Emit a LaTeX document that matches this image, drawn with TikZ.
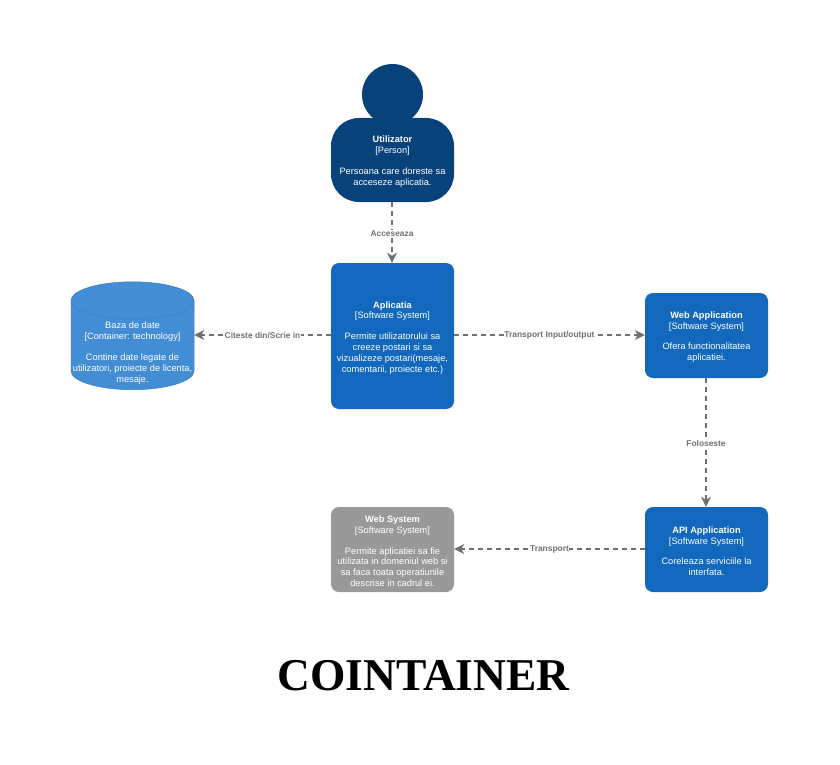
\documentclass[tikz,border=0pt]{standalone}
\usepackage{fontspec}
\setmainfont{Liberation Sans}
\newfontfamily\titlefont{Liberation Serif}
\usetikzlibrary{arrows.meta,positioning}
\definecolor{personblue}{HTML}{08427B}
\definecolor{systemblue}{HTML}{1168BD}
\definecolor{dbblue}{HTML}{438DD5}
\definecolor{dbline}{HTML}{3C7FC0}
\definecolor{extgray}{HTML}{999999}
\definecolor{relgray}{HTML}{707070}
\newcommand{\boxname}[1]{\rule{0pt}{10pt}\textbf{#1}}
\tikzset{
  c4text/.style={text=white,align=center,font=\fontsize{9.25}{10.8}\selectfont,inner sep=0pt},
  system/.style={c4text,fill=systemblue,rounded corners=8pt,minimum width=123pt,minimum height=85pt},
  external/.style={system,fill=extgray},
  personbody/.style={c4text,fill=personblue,rounded corners=28pt,minimum width=123pt,minimum height=84pt},
  personhead/.style={circle,fill=personblue,minimum size=61pt,inner sep=0pt},
  database/.style={c4text,minimum width=123pt,minimum height=108pt},
  dbshape/.style={fill=dbblue,draw=dbline,line width=0.5pt},
  relation/.style={draw=relgray,line width=1.6pt,dash pattern=on 5pt off 4pt,-{Stealth[length=10pt,width=10pt,inset=3pt]}},
  rellabel/.style={midway,fill=white,text=relgray,yshift=-0.8pt,font=\fontsize{8.4}{10}\bfseries\selectfont,inner sep=0.5pt}
}
\begin{document}
\begin{tikzpicture}[x=1pt,y=-1pt]
  \useasboundingbox (0,0) rectangle (840,765);
  \draw[dbshape] (71,300.5) arc[start angle=180,end angle=0,x radius=61.5pt,y radius=18.7pt] -- (194,371)
    arc[start angle=0,end angle=-180,x radius=61.5pt,y radius=18.7pt] -- cycle;
  \draw[dbshape,fill=none] (71,300.5) arc[start angle=180,end angle=360,x radius=61.5pt,y radius=18.7pt];
  \node[database] (db) at (132.5,336) {\rule{0pt}{41pt}Baza de date\\{[Container: technology]}\\[10pt]Contine date legate de\\utilizatori, proiecte de licenta,\\mesaje.};
  \node[personhead] (head) at (392.5,94.5) {};
  \node[personbody] (user) at (392.5,160) {\boxname{Utilizator}\\{[Person]}\\[10pt]Persoana care doreste sa\\acceseze aplicatia.};
  \node[system,minimum height=146pt] (app) at (392.5,336) {\boxname{Aplicatia}\\{[Software System]}\\[10pt]Permite utilizatorului sa\\creeze postari si sa\\vizualizeze postari(mesaje,\\comentarii, proiecte etc.)};
  \node[system] (web) at (706.5,335.5) {\boxname{Web Application}\\{[Software System]}\\[10pt]Ofera functionalitatea\\aplicatiei.};
  \node[system] (api) at (706.5,549.5) {\boxname{API Application}\\{[Software System]}\\[10pt]Coreleaza serviciile la\\interfata.};
  \node[external] (websys) at (392.5,549.5) {\boxname{Web System}\\{[Software System]}\\[10pt]Permite aplicatiei sa fie\\utilizata in domeniul web si\\sa faca toata operatiunile\\descrise in cadrul ei.};
  \node[font=\titlefont\bfseries\fontsize{45.5}{50}\selectfont] (title) at (423.5,676) {COINTAINER};
  \draw[relation] ([xshift=-0.5pt]user.south) -- node[rellabel] {Acceseaza} ([xshift=-0.5pt]app.north);
  \draw[relation] ([yshift=1pt]app.west) -- node[rellabel] {Citeste din/Scrie in} ([yshift=1pt]app.west -| db.east);
  \draw[relation] ([yshift=1pt]app.east) -- node[rellabel] {Transport Input/output} ([yshift=1pt]app.east -| web.west);
  \draw[relation] ([xshift=-0.5pt]web.south) -- node[rellabel] {Foloseste} ([xshift=-0.5pt]api.north);
  \draw[relation] ([yshift=0.5pt]api.west) -- node[rellabel] {Transport} ([yshift=0.5pt]websys.east);
\end{tikzpicture}
\end{document}
